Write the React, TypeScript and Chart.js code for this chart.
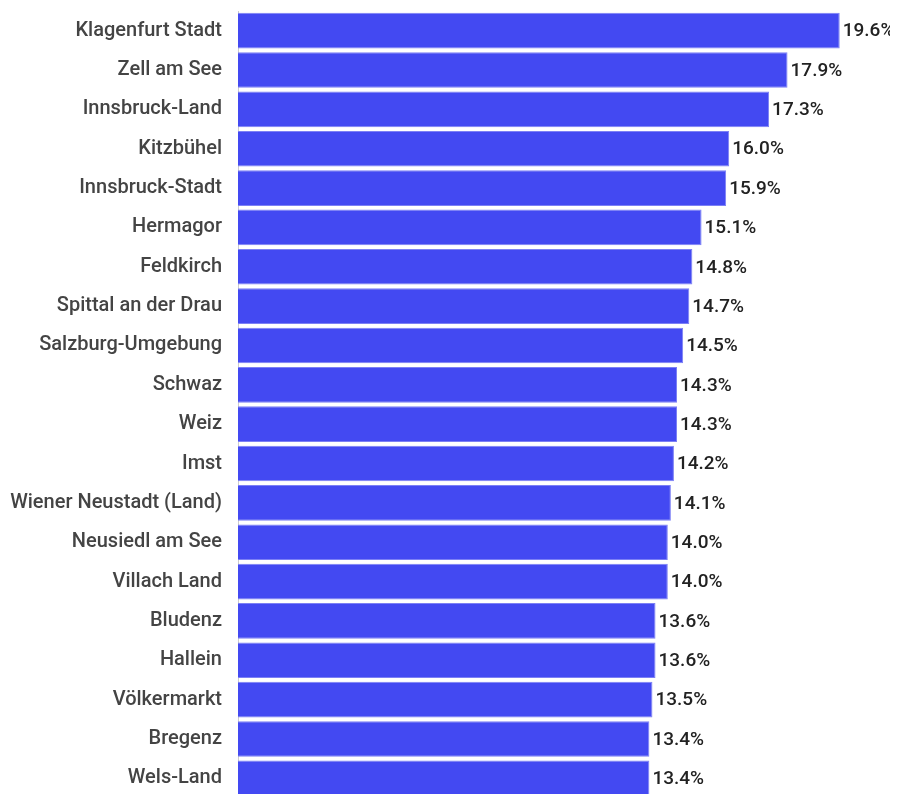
import React, { useEffect, useRef } from "react";
import { Chart, registerables } from "chart.js";

Chart.register(...registerables);

const categories = [
  "Klagenfurt Stadt",
  "Zell am See",
  "Innsbruck-Land",
  "Kitzbühel",
  "Innsbruck-Stadt",
  "Hermagor",
  "Feldkirch",
  "Spittal an der Drau",
  "Salzburg-Umgebung",
  "Schwaz",
  "Weiz",
  "Imst",
  "Wiener Neustadt (Land)",
  "Neusiedl am See",
  "Villach Land",
  "Bludenz",
  "Hallein",
  "Völkermarkt",
  "Bregenz",
  "Wels-Land",
];

const values = [
  19.6, 17.9, 17.3, 16.0, 15.9, 15.1, 14.8, 14.7, 14.5, 14.3, 14.3, 14.2, 14.1,
  14.0, 14.0, 13.6, 13.6, 13.5, 13.4, 13.4,
];

const valueLabelPlugin = {
  id: "valueLabels",
  afterDatasetsDraw(chart: any) {
    const { ctx } = chart;
    const meta = chart.getDatasetMeta(0);
    ctx.save();
    ctx.font = "500 19px Roboto";
    ctx.fillStyle = "#222222";
    ctx.textAlign = "left";
    ctx.textBaseline = "middle";
    meta.data.forEach((bar: any, i: number) => {
      const v = chart.data.datasets[0].data[i] as number;
      ctx.fillText(v.toFixed(1) + "%", bar.x + 3, bar.y + 1);
    });
    ctx.restore();
  },
};

export default function App() {
  const ref = useRef<HTMLCanvasElement>(null);
  useEffect(() => {
    if (!ref.current) return;
    const root = document.getElementById("root");
    if (root) root.style.width = "890px";
    const chart = new Chart(ref.current, {
      type: "bar",
      data: {
        labels: categories,
        datasets: [
          {
            data: values,
            backgroundColor: "#4349f2",
            borderColor: "#7c80f5",
            borderWidth: 1,
            barPercentage: 0.905,
            categoryPercentage: 1,
          },
        ],
      },
      options: {
        indexAxis: "y",
        animation: false,
        responsive: false,
        maintainAspectRatio: false,
        layout: { padding: { top: 3, right: 46, bottom: 0, left: 0 } },
        plugins: { legend: { display: false }, tooltip: { enabled: false } },
        scales: {
          x: { display: false, min: 0, max: 20 },
          y: {
            afterFit(scale: any) {
              scale.width = 230;
              scale.paddingTop = 0;
              scale.paddingBottom = 0;
            },
            grid: { display: false, drawTicks: false },
            border: { display: true, color: "#cccccc", width: 1 },
            ticks: {
              padding: 16,
              color: "#444444",
              font: { family: "Roboto", size: 20, weight: 500 },
            },
          },
        },
      },
      plugins: [valueLabelPlugin],
    });
    return () => chart.destroy();
  }, []);
  return (
    <div style={{ position: "relative", width: "890px", height: "790px" }}>
      <canvas
        ref={ref}
        width={890}
        height={790}
        style={{ display: "block", width: "890px", height: "790px" }}
      />
    </div>
  );
}
